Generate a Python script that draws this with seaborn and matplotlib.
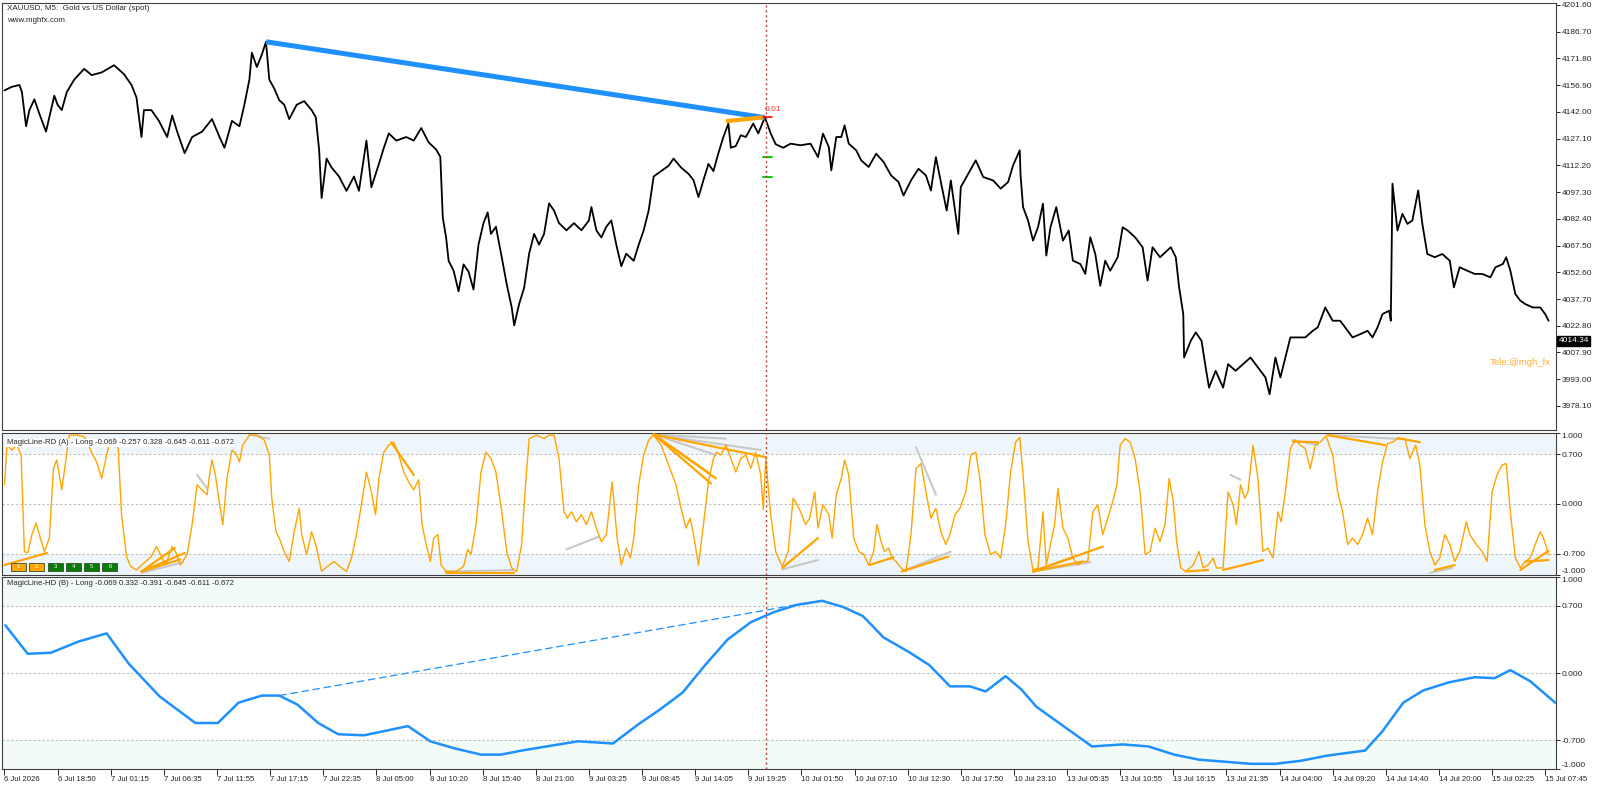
import matplotlib
matplotlib.use("Agg")
import matplotlib.pyplot as plt
from matplotlib.patches import Rectangle
import seaborn as sns
import pandas as pd

sns.set_style("white")
plt.rcParams['font.family'] = ['Liberation Sans', 'DejaVu Sans']

# ---- price (bar index, close) ----
price_pts = [
    (0, 4154), (9, 4156), (18, 4157), (21, 4153), (26, 4134), (30, 4143), (36, 4149), (42, 4141),
    (50, 4131), (54, 4139), (60, 4151), (64, 4146), (69, 4143), (75, 4153), (84, 4160), (96, 4166),
    (105, 4162.5), (117, 4164), (132, 4168), (144, 4163), (153, 4157), (159, 4150), (165, 4128),
    (168, 4143), (177, 4143), (186, 4137), (196, 4128), (202, 4140), (208, 4131), (217, 4119),
    (226, 4128), (238, 4131), (250, 4138), (259, 4128), (265, 4122), (274, 4137), (283, 4134),
    (289, 4146), (295, 4160), (298, 4175), (304, 4167), (310, 4174), (315, 4181), (319, 4160),
    (325, 4155), (331, 4148.5), (337, 4146), (343, 4138), (352, 4146), (361, 4148), (370, 4143),
    (375, 4139), (379, 4121), (382, 4094), (388, 4116), (394, 4111), (403, 4106), (412, 4098),
    (421, 4106), (427, 4098), (436, 4126), (442, 4100), (451, 4113), (457, 4122), (463, 4130),
    (472, 4126), (484, 4128), (493, 4126), (502, 4133), (511, 4125), (520, 4121), (525, 4117),
    (528, 4083), (532, 4072), (535, 4059), (541, 4053.5), (547, 4042), (553, 4057), (559, 4053),
    (565, 4043), (571, 4068), (577, 4080), (582, 4086), (586, 4074), (592, 4078), (599, 4061),
    (605, 4046), (611, 4033), (614, 4023), (620, 4035), (626, 4044), (632, 4063), (638, 4074),
    (644, 4068), (650, 4074), (656, 4091), (662, 4087), (668, 4080), (677, 4076), (686, 4080),
    (695, 4076), (704, 4081.5), (707, 4089), (713, 4076), (719, 4072), (725, 4078), (731, 4081.5),
    (737, 4068), (743, 4056), (749, 4063), (758, 4059), (764, 4068), (770, 4076), (776, 4087),
    (782, 4106), (791, 4109), (800, 4112), (806, 4116), (815, 4111), (824, 4107.5), (830, 4104),
    (836, 4094.5), (842, 4104), (848, 4113), (854, 4109), (860, 4119), (866, 4128), (872, 4135.5),
    (875, 4122), (881, 4123), (887, 4129), (893, 4128), (902, 4135.5), (908, 4130), (916, 4139),
    (923, 4130), (929, 4124), (938, 4122), (947, 4124.3), (959, 4123.4), (971, 4124.3), (980, 4116.8),
    (986, 4129.9), (993, 4122.4), (996, 4109.4), (1002, 4128), (1008, 4128), (1012, 4134.5),
    (1017, 4124.3), (1026, 4120.6), (1032, 4115), (1041, 4111.3), (1050, 4118.7), (1059, 4114.1),
    (1068, 4106.6), (1077, 4102.9), (1083, 4095.4), (1092, 4103.8), (1101, 4110.3), (1110, 4106.6),
    (1116, 4098.2), (1122, 4116.8), (1128, 4102.9), (1135, 4087), (1140, 4103.8), (1149, 4074),
    (1152, 4100.1), (1161, 4107.5), (1170, 4115), (1179, 4105.7), (1191, 4103.8), (1200, 4099.2),
    (1209, 4102.9), (1215, 4112.2), (1223, 4120.6), (1224, 4106.6), (1227, 4088.9), (1233, 4081.5),
    (1239, 4070.3), (1245, 4077.7), (1251, 4090.8), (1255, 4061.9), (1260, 4077.7), (1267, 4088.9),
    (1275, 4070.3), (1282, 4075.9), (1287, 4059.1), (1296, 4057.2), (1302, 4051.7), (1308, 4072.1),
    (1314, 4062.8), (1320, 4045.1), (1326, 4059.1), (1332, 4053.5), (1341, 4061), (1347, 4077.7),
    (1353, 4075.9), (1362, 4072.1), (1371, 4066.6), (1377, 4048), (1383, 4066.6), (1392, 4061),
    (1405, 4066.6), (1411, 4061), (1415, 4044.2), (1420, 4029.3), (1421, 4005.1), (1429, 4014.4),
    (1435, 4019.1), (1442, 4014.4), (1447, 3999.5), (1451, 3988.3), (1459, 3997.7), (1468, 3988.3),
    (1474, 4001.4), (1483, 3997.7), (1492, 4001.4), (1501, 4005.1), (1510, 3999.5), (1519, 3994),
    (1524, 3984.6), (1531, 4005.1), (1537, 3994), (1543, 4005.1), (1549, 4016.3), (1558, 4016.3),
    (1567, 4016.3), (1576, 4020), (1582, 4021.9), (1591, 4033), (1600, 4025.6), (1609, 4025.6),
    (1618, 4020), (1624, 4016.3), (1633, 4018.1), (1642, 4020), (1648, 4016.3), (1654, 4021.9),
    (1660, 4029.3), (1668, 4031.2), (1670, 4025.6), (1672, 4102), (1678, 4075.9), (1684, 4085.2),
    (1690, 4079.6), (1696, 4081.5), (1703, 4098.2), (1708, 4079.6), (1714, 4062.8), (1723, 4061),
    (1732, 4062.8), (1741, 4059.1), (1746, 4044.2), (1753, 4055.4), (1762, 4053.5), (1771, 4051.7),
    (1780, 4051.7), (1790, 4049.8), (1796, 4055.4), (1805, 4057.2), (1809, 4061), (1814, 4053.5),
    (1820, 4040.5), (1826, 4036.8), (1832, 4034.9), (1841, 4033), (1850, 4033), (1856, 4029.3),
    (1860, 4025.6),
]
last_price = 4014.34

# ---- MagicLine-RD (A) oscillator ----
rd_pts = [
    (0, 0.27), (3, 0.83), (9, 0.76), (15, 0.83), (20, 0.69), (24, -0.67), (28, -0.69), (33, -0.43),
    (38, -0.27), (42, -0.43), (48, -0.67), (54, -0.48), (59, 0.5), (63, 0.62), (69, 0.2), (74, 0.62),
    (78, 0.97), (87, 0.97), (96, 0.95), (105, 0.73), (111, 0.59), (117, 0.36), (123, 0.69), (126, 0.83),
    (132, 0.92), (137, 0.78), (141, -0.15), (147, -0.74), (152, -0.88), (159, -0.93), (168, -0.83),
    (177, -0.74), (183, -0.6), (188, -0.71), (194, -0.86), (202, -0.6), (206, -0.67), (212, -0.86),
    (220, -0.71), (226, -0.29), (232, 0.27), (238, 0.2), (244, 0.13), (247, 0.41), (250, 0.62),
    (254, 0.41), (259, 0.01), (263, -0.29), (268, 0.36), (274, 0.76), (279, 0.71), (283, 0.59),
    (287, 0.83), (295, 0.97), (304, 0.97), (313, 0.9), (319, 0.69), (322, 0.08), (327, -0.39),
    (331, -0.48), (337, -0.67), (343, -0.81), (349, -0.39), (355, -0.06), (358, -0.43), (364, -0.71),
    (370, -0.39), (376, -0.62), (382, -0.95), (391, -0.86), (397, -0.81), (406, -0.9), (412, -0.95),
    (418, -0.76), (424, -0.43), (430, -0.01), (436, 0.45), (442, 0.17), (447, -0.15), (451, 0.36),
    (457, 0.73), (463, 0.83), (469, 0.87), (475, 0.69), (481, 0.45), (487, 0.31), (493, 0.2),
    (499, 0.34), (503, -0.29), (508, -0.57), (513, -0.81), (517, -0.48), (522, -0.43), (526, -0.86),
    (532, -0.95), (544, -0.95), (553, -0.88), (558, -0.64), (562, -0.71), (568, -0.29), (574, 0.45),
    (580, 0.73), (586, 0.64), (592, 0.45), (599, -0.11), (605, -0.67), (611, -0.9), (617, -0.95),
    (623, -0.57), (627, 0.17), (632, 0.92), (641, 0.97), (650, 0.92), (656, 0.97), (662, 0.97),
    (668, 0.64), (674, -0.11), (678, -0.2), (683, -0.11), (689, -0.25), (695, -0.15), (701, -0.29),
    (707, -0.11), (713, -0.34), (719, -0.53), (725, -0.43), (732, 0.31), (738, -0.48), (743, -0.86),
    (749, -0.62), (754, -0.76), (758, -0.48), (764, 0.27), (770, 0.69), (776, 0.9), (782, 0.97),
    (791, 0.83), (800, 0.55), (809, 0.27), (815, -0.06), (821, -0.34), (826, -0.2), (830, -0.43),
    (836, -0.86), (842, -0.29), (848, 0.31), (854, 0.64), (858, 0.73), (863, 0.69), (869, 0.83),
    (875, 0.64), (881, 0.45), (887, 0.64), (893, 0.69), (899, 0.5), (905, 0.73), (911, 0.41),
    (914, -0.08), (917, 0.64), (923, -0.15), (929, -0.67), (937, -0.88), (944, -0.67), (950, 0.08),
    (953, 0.03), (959, -0.11), (965, -0.29), (970, -0.2), (976, 0.17), (980, -0.34), (986, -0.01),
    (993, -0.15), (997, -0.48), (1002, 0.13), (1008, 0.36), (1012, 0.62), (1017, 0.41), (1023, -0.48),
    (1029, -0.67), (1035, -0.71), (1041, -0.86), (1047, -0.67), (1051, -0.29), (1056, -0.53),
    (1060, -0.67), (1065, -0.62), (1069, -0.76), (1074, -0.81), (1080, -0.9), (1086, -0.95),
    (1092, -0.43), (1098, 0.5), (1104, 0.57), (1110, 0.17), (1116, -0.2), (1122, -0.06), (1128, -0.39),
    (1134, -0.57), (1139, -0.43), (1145, -0.15), (1151, -0.06), (1158, 0.17), (1164, 0.69), (1170, 0.73),
    (1175, 0.36), (1181, -0.43), (1188, -0.71), (1194, -0.67), (1200, -0.76), (1206, -0.29), (1212, 0.45),
    (1218, 0.87), (1223, 0.94), (1227, 0.41), (1233, -0.53), (1239, -0.93), (1245, -0.9), (1251, -0.11),
    (1255, -0.86), (1260, -0.57), (1265, -0.29), (1269, 0.22), (1275, -0.34), (1281, -0.48),
    (1287, -0.76), (1293, -0.86), (1299, -0.81), (1305, -0.81), (1311, -0.11), (1317, -0.01),
    (1323, -0.43), (1329, -0.2), (1335, 0.03), (1340, 0.27), (1344, 0.83), (1350, 0.92), (1356, 0.87),
    (1362, 0.64), (1368, 0.17), (1374, -0.71), (1380, -0.67), (1386, -0.34), (1392, -0.53),
    (1398, -0.29), (1403, 0.36), (1408, 0.03), (1412, -0.53), (1417, -0.9), (1423, -0.95),
    (1432, -0.86), (1439, -0.67), (1444, -0.9), (1450, -0.86), (1456, -0.76), (1460, -0.9),
    (1468, -0.9), (1474, 0.17), (1480, -0.01), (1484, -0.29), (1489, 0.27), (1494, 0.08), (1498, 0.17),
    (1504, 0.83), (1510, 0.36), (1516, -0.67), (1522, -0.62), (1528, -0.76), (1534, -0.11),
    (1538, -0.25), (1543, 0.17), (1549, 0.78), (1555, 0.9), (1561, 0.83), (1567, 0.78), (1573, 0.5),
    (1579, 0.83), (1585, 0.87), (1592, 0.96), (1600, 0.69), (1606, 0.17), (1612, -0.11), (1618, -0.57),
    (1624, -0.48), (1630, -0.57), (1636, -0.43), (1642, -0.2), (1648, -0.43), (1654, 0.17), (1660, 0.59),
    (1666, 0.85), (1672, 0.87), (1678, 0.92), (1687, 0.92), (1693, 0.64), (1700, 0.83), (1705, 0.55),
    (1711, -0.29), (1717, -0.67), (1723, -0.86), (1729, -0.76), (1735, -0.43), (1741, -0.57),
    (1747, -0.81), (1753, -0.67), (1761, -0.25), (1765, -0.43), (1773, -0.57), (1780, -0.67),
    (1786, -0.81), (1792, 0.17), (1798, 0.41), (1804, 0.55), (1809, 0.57), (1814, -0.11), (1820, -0.76),
    (1826, -0.9), (1832, -0.81), (1838, -0.76), (1844, -0.57), (1850, -0.39), (1854, -0.48), (1860, -0.71),
]

# divergence segments on RD: (bar0, v0, bar1, v1)
rd_div_orange = [
    (0, -0.86, 51, -0.69), (165, -0.95, 217, -0.69), (165, -0.95, 212, -0.78), (165, -0.95, 205, -0.62),
    (466, 0.87, 493, 0.41), (532, -0.97, 614, -0.97), (782, 0.98, 851, 0.29), (782, 0.98, 857, 0.36),
    (782, 0.98, 847, 0.45), (782, 0.98, 917, 0.66), (937, -0.9, 980, -0.48), (1042, -0.86, 1071, -0.75),
    (1081, -0.95, 1137, -0.74), (1239, -0.95, 1287, -0.75), (1239, -0.95, 1299, -0.81),
    (1239, -0.95, 1323, -0.6), (1423, -0.95, 1450, -0.93), (1468, -0.93, 1516, -0.79),
    (1552, 0.88, 1582, 0.87), (1594, 0.97, 1663, 0.83), (1678, 0.93, 1705, 0.87),
    (1723, -0.93, 1747, -0.86), (1826, -0.93, 1860, -0.66), (1832, -0.81, 1860, -0.79),
]
rd_div_grey = [
    (165, -0.97, 215, -0.82), (232, 0.41, 244, 0.22), (295, 0.98, 319, 0.92), (532, -0.95, 614, -0.93),
    (677, -0.64, 716, -0.46), (782, 0.98, 857, 0.69), (782, 0.98, 869, 0.92), (782, 0.98, 911, 0.76),
    (937, -0.92, 980, -0.79), (1098, 0.80, 1122, 0.13), (1081, -0.95, 1140, -0.67),
    (1239, -0.95, 1308, -0.82), (1477, 0.41, 1489, 0.34), (1552, 0.9, 1582, 0.83),
    (1594, 0.97, 1675, 0.92), (1717, -0.97, 1744, -0.9),
]

# ---- MagicLine-HD (B) ----
hd_pts = [
    (1, 0.497), (28, 0.200), (56, 0.211), (89, 0.327), (123, 0.413), (150, 0.094), (187, -0.245),
    (230, -0.521), (257, -0.521), (282, -0.309), (310, -0.235), (331, -0.235), (353, -0.330),
    (378, -0.521), (402, -0.638), (433, -0.649), (457, -0.606), (486, -0.553), (513, -0.712),
    (543, -0.787), (574, -0.850), (598, -0.850), (623, -0.808), (660, -0.755), (691, -0.712),
    (733, -0.734), (764, -0.532), (789, -0.384), (817, -0.203), (844, 0.083), (871, 0.348),
    (899, 0.529), (927, 0.635), (954, 0.709), (985, 0.752), (1010, 0.688), (1034, 0.593),
    (1059, 0.370), (1089, 0.221), (1114, 0.083), (1139, -0.139), (1163, -0.139), (1182, -0.192),
    (1206, -0.033), (1225, -0.172), (1243, -0.351), (1274, -0.543), (1310, -0.765), (1347, -0.744),
    (1378, -0.765), (1409, -0.850), (1439, -0.903), (1470, -0.924), (1501, -0.946), (1531, -0.946),
    (1562, -0.914), (1593, -0.861), (1639, -0.808), (1660, -0.606), (1685, -0.309), (1709, -0.182),
    (1740, -0.097), (1771, -0.044), (1795, -0.054), (1814, 0.030), (1838, -0.086), (1868, -0.309),
]
hd_div = (331, -0.235, 967, 0.73)

# trendlines on price
blue_trend = (315, 4181.1, 916, 4138.8)
orange_trend = (869, 4136.8, 914, 4139.0)
green_marks = [4116.7, 4105.5]
signal_bar = 917

price_ticks = [4201.6 - 14.9 * k for k in range(16)]
osc_ticks = [1.0, 0.7, 0.0, -0.7, -1.0]
time_labels = ["6 Jul 2026", "6 Jul 18:50", "7 Jul 01:15", "7 Jul 06:35", "7 Jul 11:55", "7 Jul 17:15",
               "7 Jul 22:35", "8 Jul 05:00", "8 Jul 10:20", "8 Jul 15:40", "8 Jul 21:00", "9 Jul 03:25",
               "9 Jul 08:45", "9 Jul 14:05", "9 Jul 19:25", "10 Jul 01:50", "10 Jul 07:10", "10 Jul 12:30",
               "10 Jul 17:50", "10 Jul 23:10", "13 Jul 05:35", "13 Jul 10:55", "13 Jul 16:15",
               "13 Jul 21:35", "14 Jul 04:00", "14 Jul 09:20", "14 Jul 14:40", "14 Jul 20:00",
               "15 Jul 02:25", "15 Jul 07:45"]
bars_per_label = 64

price_df = pd.DataFrame(price_pts, columns=["bar", "price"])
rd_df = pd.DataFrame(rd_pts, columns=["bar", "value"])
hd_df = pd.DataFrame(hd_pts, columns=["bar", "value"])

BLUE = "#1E90FF"
ORANGE = "#FFA500"
FS = 5.4

fig = plt.figure(figsize=(16, 7.88), dpi=100)
W, H = 1600, 788


def box(x0, y0, x1, y1):
    return [x0 / W, 1 - y1 / H, (x1 - x0) / W, (y1 - y0) / H]


ax_p = fig.add_axes(box(2, 3, 1556, 430))
ax_a = fig.add_axes(box(2, 433, 1556, 575), sharex=ax_p)
ax_b = fig.add_axes(box(2, 577, 1556, 769), sharex=ax_p)

# price panel
sns.lineplot(data=price_df, x="bar", y="price", ax=ax_p, color="black", lw=1.3,
             estimator=None, sort=False)
b0, p0, b1, p1 = blue_trend
ax_p.plot([b0, b1], [p0, p1], color=BLUE, lw=3.6, solid_capstyle="butt")
b0, p0, b1, p1 = orange_trend
ax_p.plot([b0, b1], [p0, p1], color=ORANGE, lw=3.0, solid_capstyle="butt")
ax_p.plot([signal_bar - 3, signal_bar + 8], [4139.0, 4139.0], color="red", lw=1.2)
ax_p.text(signal_bar - 1, 4143.5, "0.01", color="#FF2D2D", fontsize=6, ha="left", va="center")
for g in green_marks:
    ax_p.plot([signal_bar - 3, signal_bar + 8], [g, g], color="#00D000", lw=1.4)
ax_p.set_ylim(3964.7, 4202.7)
ax_p.set_yticks(price_ticks)
ax_p.set_yticklabels([f"{v:.2f}" for v in price_ticks])
ax_p.text(0.003, 0.995, "XAUUSD, M5:  Gold vs US Dollar (spot)", transform=ax_p.transAxes,
          fontsize=FS + 0.4, va="top", ha="left")
ax_p.text(0.003, 0.967, "www.mghfx.com", transform=ax_p.transAxes, fontsize=FS + 0.4,
          va="top", ha="left")
ax_p.text(0.9965, 0.158, "Tele:@mgh_fx", transform=ax_p.transAxes, color="#FFAE30",
          fontsize=6.8, ha="right", va="center")
ax_p.text(1.0015, last_price, "4014.34", transform=ax_p.get_yaxis_transform(), color="white",
          fontsize=FS + 0.6, ha="left", va="center",
          bbox=dict(boxstyle="square,pad=0.15", fc="black", ec="black"))

# RD panel
ax_a.axhspan(0.7, 1.0, color="#EEF6FC", lw=0, zorder=0)
ax_a.axhspan(-1.0, -0.7, color="#EEF6FC", lw=0, zorder=0)
for b0, v0, b1, v1 in rd_div_grey:
    ax_a.plot([b0, b1], [v0, v1], color="#C8C8C8", lw=1.5, zorder=2)
sns.lineplot(data=rd_df, x="bar", y="value", ax=ax_a, color=ORANGE, lw=1.0,
             estimator=None, sort=False, zorder=3)
for b0, v0, b1, v1 in rd_div_orange:
    ax_a.plot([b0, b1], [v0, v1], color=ORANGE, lw=1.6, zorder=4)
ax_a.set_ylim(-1.0, 1.0)
ax_a.text(0.003, 0.955, "MagicLine-RD (A) - Long -0.069 -0.257 0.328 -0.645 -0.611 -0.672",
          transform=ax_a.transAxes, fontsize=FS + 0.2, va="top", ha="left", zorder=6,
          bbox=dict(boxstyle="square,pad=0.1", fc="white", ec="none"))

# HD panel
ax_b.axhspan(0.7, 1.0, color="#F2FBF5", lw=0, zorder=0)
ax_b.axhspan(-1.0, -0.7, color="#F2FBF5", lw=0, zorder=0)
sns.lineplot(data=hd_df, x="bar", y="value", ax=ax_b, color=BLUE, lw=1.8,
             estimator=None, sort=False, zorder=3)
b0, v0, b1, v1 = hd_div
ax_b.plot([b0, b1], [v0, v1], color=BLUE, lw=0.9, ls=(0, (6, 3)), zorder=3)
ax_b.set_ylim(-1.0, 1.0)
ax_b.text(0.003, 0.985, "MagicLine-HD (B) - Long -0.069 0.332 -0.391 -0.645 -0.611 -0.672",
          transform=ax_b.transAxes, fontsize=FS + 0.2, va="top", ha="left", zorder=6)

for ax in (ax_a, ax_b):
    for lv in (0.7, 0.0, -0.7):
        ax.axhline(lv, color="#BDBDBD", lw=0.8, ls=(0, (2, 2)), zorder=1)
    ax.set_yticks(osc_ticks)
    # edge labels sit inside the panel, as in the terminal
    ax.set_yticklabels(["" if abs(v) == 1.0 else f"{v:.3f}" for v in osc_ticks])
    ytr = ax.get_yaxis_transform()
    ax.text(1.0035, 1.0, f"{osc_ticks[0]:.3f}", transform=ytr, fontsize=FS + 0.6,
            ha="left", va="top")
    ax.text(1.0035, -1.0, f"{osc_ticks[-1]:.3f}", transform=ytr, fontsize=FS + 0.6,
            ha="left", va="bottom")

for ax in (ax_p, ax_a, ax_b):
    ax.axvline(signal_bar, color="#B5403A", lw=1.0, ls=(0, (1.5, 2)), zorder=5)
    ax.yaxis.tick_right()
    ax.tick_params(axis="y", direction="out", length=3, width=0.7, labelsize=FS + 0.6, pad=1,
                   right=True, left=False)
    ax.set_xlabel("")
    ax.set_ylabel("")
    for s in ax.spines.values():
        s.set_color("#404040")
        s.set_linewidth(0.8)
    ax.set_xlim(-3, 1869)

ax_p.tick_params(axis="x", bottom=False, labelbottom=False)
ax_a.tick_params(axis="x", bottom=False, labelbottom=False)
ax_b.set_xticks([k * bars_per_label for k in range(len(time_labels))])
ax_b.set_xticklabels(time_labels, ha="left")
ax_b.tick_params(axis="x", direction="out", length=4, width=0.7, labelsize=FS + 0.2, pad=1,
                 bottom=True)

# indicator buttons
btn_colors = [ORANGE, ORANGE, "#0A7A0A", "#0A7A0A", "#0A7A0A", "#0A7A0A"]
for i, c in enumerate(btn_colors):
    x0 = 11 + i * 18.3
    fig.add_artist(Rectangle((x0 / W, 1 - 570.5 / H), 15 / W, 7.5 / H, transform=fig.transFigure,
                             fc=c, ec="#2E4E2E", lw=0.6, zorder=10))
    fig.text((x0 + 7.5) / W, 1 - 566.8 / H, str(i + 1), color="white", fontsize=4.2,
             ha="center", va="center", zorder=11)

fig.savefig("out.png", dpi=100, facecolor="white")
